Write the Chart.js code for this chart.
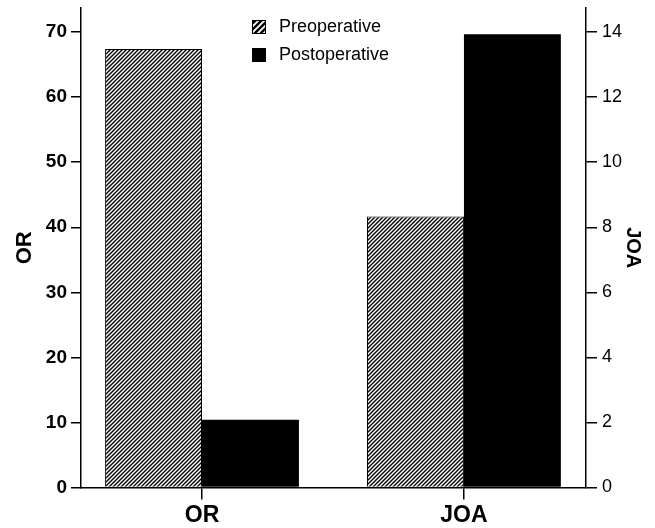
<!DOCTYPE html>
<html>
<head>
<meta charset="utf-8">
<script src="https://cdn.jsdelivr.net/npm/chart.js@4"></script>
<style>
  html, body { margin: 0; padding: 0; background: #fff; }
</style>
</head>
<body>
<canvas id="myChart" width="655" height="528"></canvas>
<script>
// Data
const categories = ["OR", "JOA"];
const seriesNames = ["Preoperative", "Postoperative"];
const preoperative = [67.4, 8.33];   // OR on left axis, JOA on right axis
const postoperative = [10.4, 13.93];
const categoryAxis = ["y", "y2"];
const leftTicks = [0, 10, 20, 30, 40, 50, 60, 70];
const rightTicks = [0, 2, 4, 6, 8, 10, 12, 14];

const FONT = '"Liberation Sans", Arial, Helvetica, sans-serif';
Chart.defaults.font.family = FONT;
Chart.defaults.color = "#000";

// diagonal hatch "////"
function makeHatch(size, width) {
  const c = document.createElement("canvas");
  c.width = size;
  c.height = size;
  const g = c.getContext("2d");
  g.fillStyle = "#fff";
  g.fillRect(0, 0, size, size);
  g.strokeStyle = "#000";
  g.lineWidth = width;
  g.beginPath();
  g.moveTo(-1, size + 1); g.lineTo(size + 1, -1);
  g.moveTo(-1, 1); g.lineTo(1, -1);
  g.moveTo(size - 1, size + 1); g.lineTo(size + 1, size - 1);
  g.stroke();
  return c;
}

const ctx = document.getElementById("myChart").getContext("2d");
const hatch = ctx.createPattern(makeHatch(4, 1.4), "repeat");
const legendHatch = ctx.createPattern(makeHatch(6, 2.4), "repeat");

// one dataset per series and category, so each category can use its own y axis
const datasets = [];
[preoperative, postoperative].forEach((values, s) => {
  categories.forEach((cat, i) => {
    datasets.push({
      label: seriesNames[s],
      yAxisID: categoryAxis[i],
      data: categories.map((c, j) => ({ x: j, y: j === i ? values[j] : null })),
      backgroundColor: s === 0 ? hatch : "#000",
      borderColor: "#000",
      borderWidth: s === 0 ? 1 : 0
    });
  });
});

const legendPlugin = {
  id: "boxLegend",
  afterDraw(chart) {
    const c = chart.ctx;
    c.save();
    seriesNames.forEach((name, i) => {
      const y = 20 + i * 28;
      c.fillStyle = i === 0 ? legendHatch : "#000";
      c.fillRect(252, y, 14, 14);
      c.strokeStyle = "#000";
      c.lineWidth = 1;
      c.strokeRect(252.5, y + 0.5, 13, 13);
      c.fillStyle = "#000";
      c.font = "18px " + FONT;
      c.textBaseline = "middle";
      c.textAlign = "left";
      c.fillText(name, 279, y + 7.5);
    });
    c.restore();
  }
};

const axisLine = { display: true, color: "#000", width: 1.5 };

new Chart(ctx, {
  type: "bar",
  data: { datasets: datasets },
  options: {
    responsive: false,
    animation: false,
    events: [],
    layout: { padding: { top: 8 } },
    datasets: { bar: { skipNull: true, categoryPercentage: 0.74, barPercentage: 1 } },
    plugins: { legend: { display: false }, tooltip: { enabled: false } },
    scales: {
      x: {
        type: "linear",
        offset: false,
        min: -0.462,
        max: 1.466,
        afterBuildTicks: s => { s.ticks = categories.map((c, i) => ({ value: i })); },
        afterFit: s => { s.height = 40.5; s.paddingLeft = 0; s.paddingRight = 0; },
        grid: { offset: false, drawOnChartArea: false, drawTicks: true, tickLength: 12, color: "#000", lineWidth: 1.5 },
        border: axisLine,
        ticks: {
          callback: v => categories[v],
          font: { size: 23, weight: "bold" },
          padding: 2,
          maxRotation: 0,
          autoSkip: false
        }
      },
      y: {
        position: "left",
        min: 0,
        max: 73.7,
        afterBuildTicks: s => { s.ticks = leftTicks.map(v => ({ value: v })); },
        afterFit: s => { s.width = 81; s.paddingTop = 0; s.paddingBottom = 0; },
        grid: { drawOnChartArea: false, tickLength: 10, color: "#000", lineWidth: 1.5 },
        border: axisLine,
        ticks: { font: { size: 19, weight: "bold" }, padding: 4 },
        title: { display: true, text: "OR", font: { size: 22, weight: "bold" }, padding: { top: 12 } }
      },
      y2: {
        position: "right",
        min: 0,
        max: 14.74,
        afterBuildTicks: s => { s.ticks = rightTicks.map(v => ({ value: v })); },
        afterFit: s => { s.width = 69; s.paddingTop = 0; s.paddingBottom = 0; },
        grid: { drawOnChartArea: false, tickLength: 11, color: "#000", lineWidth: 1.5 },
        border: axisLine,
        ticks: { font: { size: 18 }, padding: 5 },
        title: { display: true, text: "JOA", font: { size: 20, weight: "bold" }, padding: { top: 10 } }
      }
    }
  },
  plugins: [legendPlugin]
});
</script>
</body>
</html>
